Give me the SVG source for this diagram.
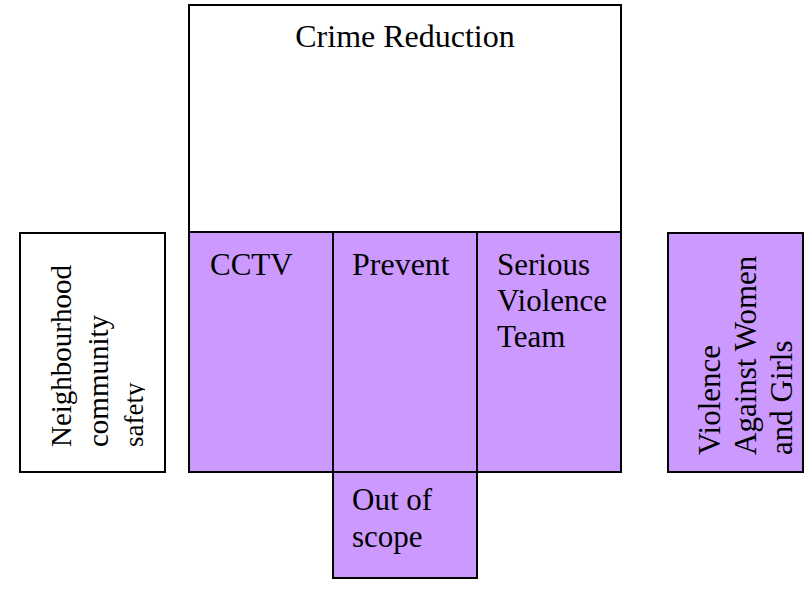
<svg xmlns="http://www.w3.org/2000/svg" width="805" height="593" viewBox="0 0 805 593">
<style>
.box{stroke:#000;stroke-width:2}
.p{fill:#CC99FF}
.w{fill:#fff}
text{font-family:'Liberation Serif','Times New Roman',serif;font-size:31px;fill:#000}
</style>
<defs>
<clipPath id="clipL"><rect x="20" y="232" width="125" height="240"/></clipPath>
</defs>
<rect width="805" height="593" fill="#fff"/>
<g id="crime-reduction">
<rect class="box w" x="189" y="5" width="432" height="227"/>
<text x="405" y="47" text-anchor="middle" style="font-size:32px">Crime Reduction</text>
</g>
<g id="neighbourhood">
<rect class="box w" x="20" y="233" width="145" height="239"/>
<g clip-path="url(#clipL)">
<text transform="translate(71,447) rotate(-90)" style="font-size:29px">Neighbourhood</text>
<text transform="translate(108,447) rotate(-90)" style="font-size:29px">community</text>
<text transform="translate(143,447) rotate(-90)" style="font-size:27px">safety</text>
</g>
</g>
<g id="cctv">
<rect class="box p" x="189" y="232" width="144" height="240"/>
<text x="210" y="275">CCTV</text>
</g>
<g id="prevent">
<rect class="box p" x="333" y="232" width="144" height="240"/>
<text x="352" y="275" style="font-size:32px">Prevent</text>
</g>
<g id="serious-violence">
<rect class="box p" x="477" y="232" width="144" height="240"/>
<text x="497" y="275">Serious</text>
<text x="497" y="311">Violence</text>
<text x="497" y="347">Team</text>
</g>
<g id="vawg">
<rect class="box p" x="668" y="233" width="135" height="239"/>
<text transform="translate(720,455) rotate(-90)">Violence</text>
<text transform="translate(756,455) rotate(-90)">Against Women</text>
<text transform="translate(792,455) rotate(-90)">and Girls</text>
</g>
<g id="out-of-scope">
<rect class="box p" x="333" y="472" width="144" height="106"/>
<text x="352" y="510">Out of</text>
<text x="352" y="547">scope</text>
</g>
<g id="connectors"></g>
</svg>
